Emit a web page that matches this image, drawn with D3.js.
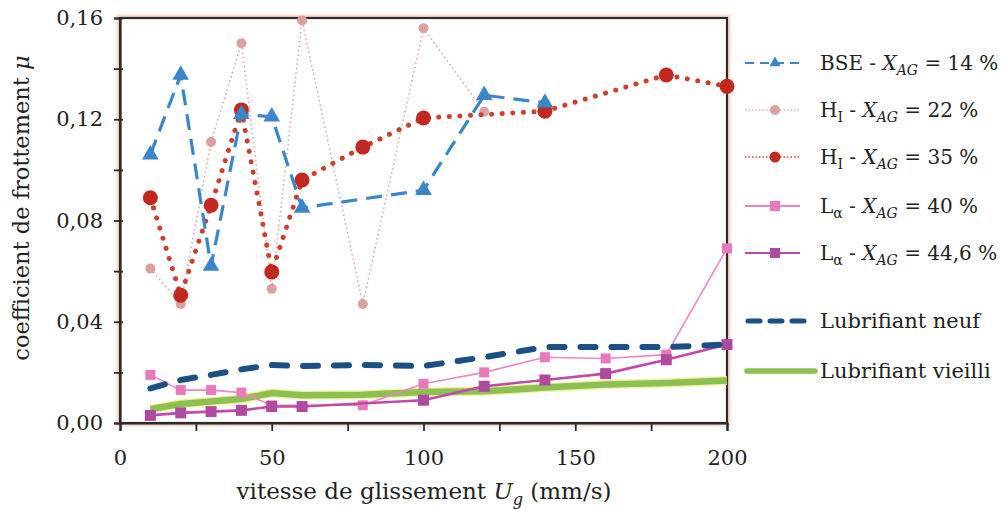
<!DOCTYPE html>
<html><head><meta charset="utf-8">
<script src="https://cdn.jsdelivr.net/npm/d3@7/dist/d3.min.js"></script>
<style>
html,body{margin:0;padding:0;background:#fff;}
svg text{font-family:"DejaVu Serif",serif;fill:#222;}
</style></head>
<body><svg id="c" width="1005" height="510"></svg>
<script>
// ---- data ----
const xBSE = [10,20,30,40,50,60,100,120,140];
const yBSE = [0.106,0.1375,0.062,0.122,0.121,0.085,0.092,0.1295,0.1265];
const xH22 = [10,20,30,40,50,60,80,100,120];
const yH22 = [0.061,0.047,0.111,0.150,0.053,0.159,0.047,0.156,0.123];
const xH35 = [10,20,30,40,50,60,80,100,140,180,200];
const yH35 = [0.089,0.0505,0.086,0.1237,0.0597,0.096,0.109,0.1205,0.1232,0.1375,0.133];
const xL40 = [10,20,30,40,50,80,100,120,140,160,180,200];
const yL40 = [0.019,0.013,0.013,0.012,0.007,0.007,0.0155,0.020,0.026,0.0255,0.027,0.069];
const xL446 = [10,20,30,40,50,60,100,120,140,160,180,200];
const yL446 = [0.003,0.004,0.0045,0.005,0.0065,0.0065,0.009,0.0145,0.017,0.0195,0.025,0.031];
const xNeuf = [10,20,30,40,50,60,80,100,120,140,160,180,200];
const yNeuf = [0.0137,0.017,0.019,0.0212,0.0229,0.0225,0.0229,0.0225,0.026,0.030,0.030,0.030,0.031];
const xVieilli = [10,20,30,40,50,60,80,100,120,140,160,180,200];
const yVieilli = [0.0055,0.0075,0.0085,0.0095,0.0118,0.011,0.0112,0.0122,0.0125,0.014,0.0152,0.0158,0.0168];
const xTicks = [0,25,50,75,100,125,150,175,200];
const xTickLabels = {0:"0",50:"50",100:"100",150:"150",200:"200"};
const yTicks = [0,0.02,0.04,0.06,0.08,0.10,0.12,0.14,0.16];
const yTickLabels = {"0":"0,00","0.04":"0,04","0.08":"0,08","0.12":"0,12","0.16":"0,16"};

const svg = d3.select("#c");
const L = 120, R = 727, T = 18, B = 423;
const x = d3.scaleLinear().domain([0,200]).range([L,R]);
const y = d3.scaleLinear().domain([0,0.16]).range([B,T]);

// frame halo + frame
svg.append("rect").attr("x",L).attr("y",T).attr("width",R-L).attr("height",B-T)
  .attr("fill","none").attr("stroke","#fcd9c8").attr("stroke-width",7);
svg.append("rect").attr("x",L).attr("y",T).attr("width",R-L).attr("height",B-T)
  .attr("fill","#fff").attr("stroke","#2b2b2b").attr("stroke-width",2.2);

// axes
const gx = svg.append("g").attr("transform",`translate(0,${B})`)
  .call(d3.axisBottom(x).tickValues(xTicks).tickSize(8).tickPadding(19)
    .tickFormat(d => xTickLabels[d] || ""));
const gy = svg.append("g").attr("transform",`translate(${L},0)`)
  .call(d3.axisLeft(y).tickValues(yTicks).tickSize(6).tickPadding(11)
    .tickFormat(d => yTickLabels[String(+d.toFixed(2))] || ""));
[gx,gy].forEach(g=>{
  g.select(".domain").attr("stroke","#2b2b2b").attr("stroke-width",2.2);
  g.selectAll(".tick line").attr("stroke","#2b2b2b").attr("stroke-width",1.8);
  g.selectAll(".tick text").attr("font-size",21).attr("font-family","DejaVu Serif").attr("fill","#222");
});
gy.selectAll(".tick line").attr("x2",-6).attr("x1",3);

const plot = svg.append("g");
const mk = (xs,ys)=>xs.map((v,i)=>[v,ys[i]]);
const line = d3.line().x(d=>x(d[0])).y(d=>y(d[1]));

// H_I 22 %
const dH22 = mk(xH22,yH22);
plot.append("path").attr("d",line(dH22)).attr("fill","none")
  .attr("stroke","#dca3a3").attr("stroke-width",1.6).attr("stroke-dasharray","1.5 3");
plot.selectAll(".h22").data(dH22).enter().append("circle")
  .attr("cx",d=>x(d[0])).attr("cy",d=>y(d[1])).attr("r",5).attr("fill","#dda0a0");

// Lubrifiant vieilli
plot.append("path").attr("d",line(mk(xVieilli,yVieilli))).attr("fill","none")
  .attr("stroke","#f3f0a0").attr("stroke-width",9);
plot.append("path").attr("d",line(mk(xVieilli,yVieilli))).attr("fill","none")
  .attr("stroke","#8cc152").attr("stroke-width",6.5);

// L_alpha 40 %
const dL40 = mk(xL40,yL40);
plot.append("path").attr("d",line(dL40)).attr("fill","none")
  .attr("stroke","#ee86c2").attr("stroke-width",1.6);
plot.selectAll(".l40").data(dL40).enter().append("rect")
  .attr("x",d=>x(d[0])-5).attr("y",d=>y(d[1])-5).attr("width",10).attr("height",10)
  .attr("fill","#e97ab9");

// L_alpha 44.6 %
const dL446 = mk(xL446,yL446);
plot.append("path").attr("d",line(dL446)).attr("fill","none")
  .attr("stroke","#c04aa5").attr("stroke-width",2.6);
plot.selectAll(".l446").data(dL446).enter().append("rect")
  .attr("x",d=>x(d[0])-5.5).attr("y",d=>y(d[1])-5.5).attr("width",11).attr("height",11)
  .attr("fill","#b04aa0");

// Lubrifiant neuf
plot.append("path").attr("d",line(mk(xNeuf,yNeuf))).attr("fill","none")
  .attr("stroke","#1b4f86").attr("stroke-width",6).attr("stroke-dasharray","15 16")
  .attr("stroke-linecap","round");

// H_I 35 %
const dH35 = mk(xH35,yH35);
plot.append("path").attr("d",line(dH35)).attr("fill","none")
  .attr("stroke","#c9402e").attr("stroke-width",5).attr("stroke-dasharray","0.1 10.5")
  .attr("stroke-linecap","round");
plot.selectAll(".h35").data(dH35).enter().append("circle")
  .attr("cx",d=>x(d[0])).attr("cy",d=>y(d[1])).attr("r",7.5).attr("fill","#c3281e");

// BSE
const dBSE = mk(xBSE,yBSE);
plot.append("path").attr("d",line(dBSE)).attr("fill","none")
  .attr("stroke","#3a86cc").attr("stroke-width",3.2).attr("stroke-dasharray","16 9");
const tri = d3.symbol().type(d3.symbolTriangle).size(120);
plot.selectAll(".bse").data(dBSE).enter().append("path")
  .attr("d",tri).attr("transform",d=>`translate(${x(d[0])},${y(d[1])})`)
  .attr("fill","#3a86cc");

// axis titles
const yt = svg.append("text").attr("transform","translate(29,208) rotate(-90)")
  .attr("text-anchor","middle").attr("font-size",22.5);
yt.append("tspan").text("coefficient de frottement ");
yt.append("tspan").attr("font-style","italic").text("\u03bc");

const xt = svg.append("text").attr("x",424).attr("y",499).attr("text-anchor","middle").attr("font-size",23);
xt.append("tspan").text("vitesse de glissement ");
xt.append("tspan").attr("font-style","italic").text("U");
xt.append("tspan").attr("font-style","italic").attr("font-size",16).attr("dy",6).text("g");
xt.append("tspan").attr("dy",-6).text(" (mm/s)");

// legend
const lg = svg.append("g");
const lx0 = 745, lx1 = 800, tx = 820;
function xag(t, pre, preSub, val){
  if(pre!==null){
    t.append("tspan").text(pre);
    t.append("tspan").attr("font-size",14).attr("dy",5).text(preSub);
    t.append("tspan").attr("dy",-5).text(" - ");
  }
  t.append("tspan").attr("font-style","italic").text("X");
  t.append("tspan").attr("font-style","italic").attr("font-size",14).attr("dy",5).text("AG");
  t.append("tspan").attr("dy",-5).text(" = " + val);
}
// BSE
let ly = 63;
lg.append("line").attr("x1",lx0).attr("x2",lx1).attr("y1",ly).attr("y2",ly)
  .attr("stroke","#3a86cc").attr("stroke-width",2).attr("stroke-dasharray","9 6");
lg.append("path").attr("d",d3.symbol().type(d3.symbolTriangle).size(55)).attr("transform",`translate(775,${ly})`).attr("fill","#3a86cc");
let t = lg.append("text").attr("x",tx).attr("y",ly+7).attr("font-size",20);
t.append("tspan").text("BSE - "); xag(t,null,null,"14 %");
// H22
ly = 110;
lg.append("line").attr("x1",lx0).attr("x2",lx1).attr("y1",ly).attr("y2",ly)
  .attr("stroke","#e2a8a8").attr("stroke-width",1.3).attr("stroke-dasharray","1.5 2");
lg.append("circle").attr("cx",775).attr("cy",ly).attr("r",5).attr("fill","#dda0a0");
t = lg.append("text").attr("x",tx).attr("y",ly+7).attr("font-size",20);
xag(t,"H","I","22 %");
// H35
ly = 157;
lg.append("line").attr("x1",lx0).attr("x2",lx1).attr("y1",ly).attr("y2",ly)
  .attr("stroke","#d0413a").attr("stroke-width",1.3).attr("stroke-dasharray","1.5 2");
lg.append("circle").attr("cx",775).attr("cy",ly).attr("r",5.5).attr("fill","#c3281e");
t = lg.append("text").attr("x",tx).attr("y",ly+7).attr("font-size",20);
xag(t,"H","I","35 %");
// L40
ly = 206;
lg.append("line").attr("x1",lx0).attr("x2",lx1).attr("y1",ly).attr("y2",ly)
  .attr("stroke","#ee86c2").attr("stroke-width",2);
lg.append("rect").attr("x",770).attr("y",ly-5).attr("width",10).attr("height",10).attr("fill","#e97ab9");
t = lg.append("text").attr("x",tx).attr("y",ly+7).attr("font-size",20);
xag(t,"L","\u03b1","40 %");
// L446
ly = 253;
lg.append("line").attr("x1",lx0).attr("x2",lx1).attr("y1",ly).attr("y2",ly)
  .attr("stroke","#c04aa5").attr("stroke-width",2);
lg.append("rect").attr("x",770).attr("y",ly-5).attr("width",10).attr("height",10).attr("fill","#b04aa0");
t = lg.append("text").attr("x",tx).attr("y",ly+7).attr("font-size",20);
xag(t,"L","\u03b1","44,6 %");
// neuf
ly = 321;
lg.append("line").attr("x1",lx0+3).attr("x2",808).attr("y1",ly).attr("y2",ly)
  .attr("stroke","#1b4f86").attr("stroke-width",5).attr("stroke-dasharray","12 10")
  .attr("stroke-linecap","round");
lg.append("text").attr("x",tx).attr("y",ly+7).attr("font-size",21).text("Lubrifiant neuf");
// vieilli
ly = 371;
lg.append("line").attr("x1",lx0+2).attr("x2",815).attr("y1",ly).attr("y2",ly)
  .attr("stroke","#8cc152").attr("stroke-width",5.5).attr("stroke-linecap","round");
lg.append("text").attr("x",tx).attr("y",ly+7).attr("font-size",21).text("Lubrifiant vieilli");
</script>
</body></html>
